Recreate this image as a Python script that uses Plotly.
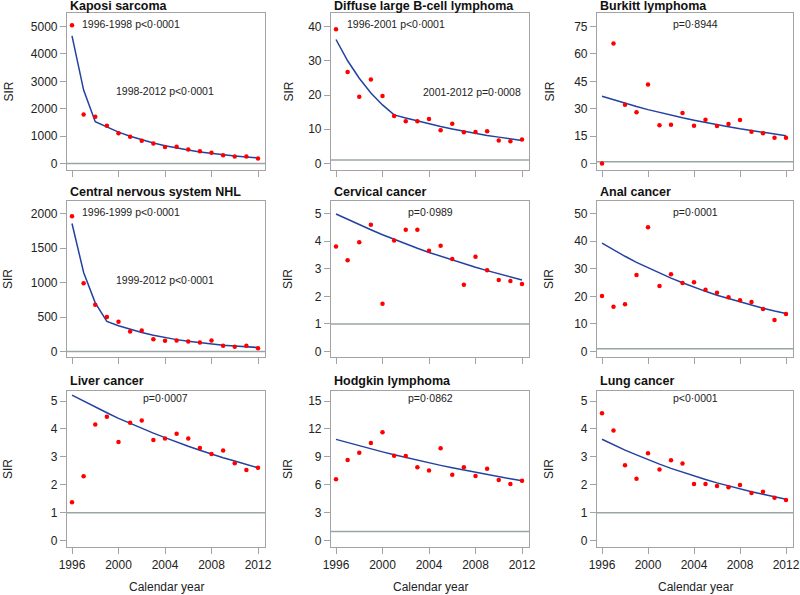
import plotly.graph_objects as go

# ---------------- data ----------------
years = list(range(1996, 2013))
x_ticks = [1996, 2000, 2004, 2008, 2012]

titles = ["Kaposi sarcoma", "Diffuse large B-cell lymphoma", "Burkitt lymphoma",
          "Central nervous system NHL", "Cervical cancer", "Anal cancer",
          "Liver cancer", "Hodgkin lymphoma", "Lung cancer"]

kaposi_obs = [5050, 1790, 1710, 1380, 1100, 975, 830, 730, 600, 610, 510, 450, 390, 305, 255, 255, 185]
kaposi_fit = [4660, 2680, 1525, 1320, 1145, 995, 860, 745, 650, 560, 490, 420, 365, 315, 275, 240, 205]
dlbcl_obs = [39.2, 26.7, 19.5, 24.5, 19.7, 13.9, 12.3, 12.3, 13.0, 9.7, 11.6, 9.1, 9.2, 9.4, 6.7, 6.5, 7.0]
dlbcl_fit = [36.2, 30.0, 24.9, 20.6, 17.1, 14.2, 13.3, 12.4, 11.6, 10.8, 10.1, 9.4, 8.8, 8.2, 7.7, 7.2, 6.7]
burkitt_obs = [0, 65.7, 32.2, 28.0, 43.2, 20.9, 21.2, 27.6, 20.7, 24.0, 20.5, 21.6, 23.8, 17.4, 16.6, 14.1, 14.1]
burkitt_fit = [36.8, 34.8, 33.0, 31.2, 29.5, 27.9, 26.4, 25.0, 23.7, 22.4, 21.2, 20.1, 19.0, 18.0, 17.0, 16.1, 15.2]
cns_obs = [1961, 988, 678, 499, 431, 291, 305, 179, 155, 160, 145, 131, 160, 82, 68, 82, 48]
cns_fit = [1855, 1145, 706, 436, 373, 320, 274, 234, 201, 172, 147, 126, 108, 92, 79, 68, 58]
cervical_obs = [3.80, 3.31, 3.96, 4.59, 1.73, 4.02, 4.41, 4.41, 3.65, 3.83, 3.35, 2.42, 3.43, 2.94, 2.59, 2.55, 2.45]
cervical_fit = [4.98, 4.78, 4.59, 4.41, 4.23, 4.06, 3.90, 3.74, 3.59, 3.45, 3.31, 3.18, 3.05, 2.93, 2.81, 2.70, 2.59]
anal_obs = [20.1, 16.2, 17.1, 27.7, 45.0, 23.7, 28.0, 24.8, 25.1, 22.4, 21.3, 19.7, 18.6, 17.9, 15.4, 11.4, 13.6]
anal_fit = [39.3, 36.8, 34.5, 32.3, 30.3, 28.4, 26.6, 24.9, 23.3, 21.8, 20.4, 19.2, 17.9, 16.8, 15.7, 14.7, 13.8]
liver_obs = [1.38, 2.31, 4.16, 4.44, 3.53, 4.22, 4.30, 3.60, 3.66, 3.83, 3.66, 3.32, 3.10, 3.23, 2.77, 2.53, 2.61]
liver_fit = [5.21, 4.99, 4.78, 4.58, 4.38, 4.20, 4.02, 3.85, 3.69, 3.53, 3.38, 3.24, 3.10, 2.97, 2.85, 2.73, 2.61]
hodgkin_obs = [6.59, 8.66, 9.45, 10.49, 11.64, 9.13, 9.09, 7.88, 7.55, 9.92, 7.09, 7.88, 6.95, 7.73, 6.52, 6.09, 6.44]
hodgkin_fit = [10.88, 10.53, 10.19, 9.86, 9.54, 9.23, 8.93, 8.64, 8.36, 8.09, 7.83, 7.58, 7.34, 7.10, 6.87, 6.65, 6.44]
lung_obs = [4.56, 3.94, 2.70, 2.22, 3.13, 2.55, 2.88, 2.76, 2.03, 2.03, 1.96, 1.91, 1.99, 1.71, 1.75, 1.54, 1.46]
lung_fit = [3.63, 3.43, 3.24, 3.07, 2.90, 2.74, 2.59, 2.45, 2.32, 2.19, 2.07, 1.96, 1.85, 1.75, 1.66, 1.57, 1.48]

observed = [kaposi_obs, dlbcl_obs, burkitt_obs, cns_obs, cervical_obs, anal_obs,
            liver_obs, hodgkin_obs, lung_obs]
fitted = [kaposi_fit, dlbcl_fit, burkitt_fit, cns_fit, cervical_fit, anal_fit,
          liver_fit, hodgkin_fit, lung_fit]

y_tick_max = [5000, 40, 75, 2000, 5, 50, 5, 15, 5]
y_tick_step = [1000, 10, 15, 500, 1, 10, 1, 3, 1]

p_labels = [
    ["1996-1998 p<0·0001", "1998-2012 p<0·0001"],
    ["1996-2001 p<0·0001", "2001-2012 p=0·0008"],
    ["p=0·8944"],
    ["1996-1999 p<0·0001", "1999-2012 p<0·0001"],
    ["p=0·0989"],
    ["p=0·0001"],
    ["p=0·0007"],
    ["p=0·0862"],
    ["p<0·0001"],
]

# ---------------- layout geometry (pixels) ----------------
W, H = 800, 595
col_x = [(67, 265), (331, 529), (597, 793)]
row_y = [(13, 170), (201, 357), (391, 547)]
row_ticks = [(26.5, 163.5), (213.5, 351.5), (401, 540.7)]
title_y = [6.5, 192, 381]
sir_x = [8, 288, 549]
label_pos = [
    [(131, 24), (165, 91)],
    [(396, 24), (472, 92)],
    [(695, 24)],
    [(131, 212), (165, 280)],
    [(430, 212)],
    [(695, 212)],
    [(165, 398)],
    [(430, 398)],
    [(695, 398)],
]

FONT = "Arial, Liberation Sans, sans-serif"
FRAME = "#a3a3a3"
REF = "#9aa6a6"
LINE = "#2341a0"
DOT = "#ff0000"


def px(x):
    return x / W


def py(y):
    return 1 - y / H


fig = go.Figure()
layout = dict(template="none", width=W, height=H, autosize=False,
              margin=dict(l=0, r=0, t=0, b=0, pad=0),
              paper_bgcolor="white", plot_bgcolor="white", showlegend=False,
              font=dict(family=FONT, size=12, color="#222"))
annotations = []
shapes = []

for i in range(9):
    r, c = divmod(i, 3)
    n = i + 1
    xa = "x" if n == 1 else f"x{n}"
    ya = "y" if n == 1 else f"y{n}"
    x0, x1 = col_x[c]
    T, B = row_y[r]
    ty, tz = row_ticks[r]
    V = y_tick_max[i]
    s = (tz - ty) / V
    y_lo = -(B - tz) / s
    y_hi = V + (ty - T) / s
    ppy = (x1 - x0 - 12) / 16.0
    x_lo = 1996 - 5 / ppy
    x_hi = 2012 + 7 / ppy

    fig.add_trace(go.Scatter(x=years, y=fitted[i], mode="lines",
                             line=dict(color=LINE, width=1.5),
                             xaxis=xa, yaxis=ya, hoverinfo="skip"))
    fig.add_trace(go.Scatter(x=years, y=observed[i], mode="markers",
                             marker=dict(color=DOT, size=4.5, line=dict(width=0)),
                             xaxis=xa, yaxis=ya, cliponaxis=False))

    ticks_y = list(range(0, V + 1, y_tick_step[i]))
    axis_common = dict(showline=True, mirror=True, linecolor=FRAME, linewidth=1.2,
                       showgrid=False, zeroline=False, ticks="outside",
                       ticklen=6, tickwidth=1.2, tickcolor=FRAME, automargin=False,
                       tickfont=dict(family=FONT, size=12, color="#222"))
    layout["xaxis" if n == 1 else f"xaxis{n}"] = dict(
        domain=[px(x0), px(x1)], range=[x_lo, x_hi], anchor=ya,
        tickvals=x_ticks, showticklabels=(r == 2), **axis_common)
    layout["yaxis" if n == 1 else f"yaxis{n}"] = dict(
        domain=[py(B), py(T)], range=[y_lo, y_hi], anchor=xa,
        tickvals=ticks_y, **axis_common)

    shapes.append(dict(type="line", xref=f"{xa} domain", yref=ya,
                       x0=0, x1=1, y0=1, y1=1,
                       line=dict(color=REF, width=1.5), layer="below"))

    annotations.append(dict(text=f"<b>{titles[i]}</b>", xref="paper", yref="paper",
                            x=px(x0 + 1), y=py(title_y[r]), xanchor="left",
                            yanchor="middle", showarrow=False,
                            font=dict(family=FONT, size=12.5, color="#111")))
    annotations.append(dict(text="SIR", xref="paper", yref="paper",
                            x=px(sir_x[c]), y=py((T + B) / 2), textangle=-90,
                            xanchor="center", yanchor="middle", showarrow=False,
                            font=dict(family=FONT, size=12, color="#222")))
    for txt, (lx, ly) in zip(p_labels[i], label_pos[i]):
        annotations.append(dict(text=txt, xref="paper", yref="paper",
                                x=px(lx), y=py(ly), xanchor="center",
                                yanchor="middle", showarrow=False,
                                font=dict(family=FONT, size=10.5, color="#222")))
    if r == 2:
        annotations.append(dict(text="Calendar year", xref="paper", yref="paper",
                                x=px((x0 + x1) / 2), y=py(587), xanchor="center",
                                yanchor="middle", showarrow=False,
                                font=dict(family=FONT, size=12, color="#222")))

layout["annotations"] = annotations
layout["shapes"] = shapes
fig.update_layout(**layout)
fig.write_html("out.html", config={"displayModeBar": False},
               post_script="document.body.style.margin='0';"
                           "document.body.style.overflow='hidden';")
